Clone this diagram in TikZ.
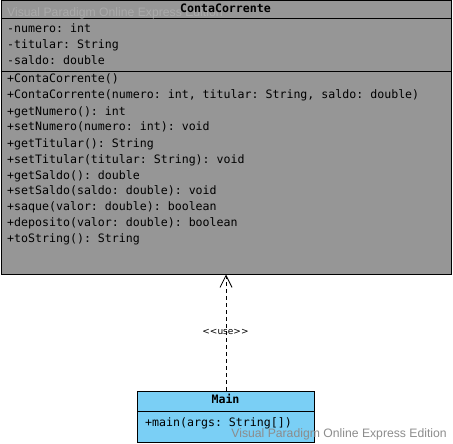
\documentclass[tikz,border=0pt]{standalone}
\usepackage{fontspec}
\setmainfont{Liberation Sans}
\setmonofont{DejaVu Sans Mono}
\newfontfamily\labelfont{DejaVu Sans}
\usetikzlibrary{arrows.meta}
\definecolor{clsgray}{RGB}{150,150,150}
\definecolor{clsblue}{RGB}{122,207,245}
\definecolor{wmdark}{RGB}{140,140,140}
\definecolor{wmlight}{RGB}{170,170,170}
\begin{document}
\begin{tikzpicture}[x=1pt,y=-1pt,
  classbox/.style={draw=black, line width=1pt, anchor=north west, inner sep=0pt},
  member/.style={anchor=west, inner sep=0pt, font=\ttfamily\fontsize{11.6}{13}\selectfont, text height=8.5pt, text depth=2.5pt},
  classtitle/.style={inner sep=0pt, font=\ttfamily\bfseries\fontsize{11.6}{13}\selectfont, text height=8.5pt, text depth=2.5pt},
  watermark/.style={inner sep=0pt, font=\fontsize{12.2}{14}\selectfont},
  uselabel/.style={inner sep=0pt, font=\labelfont\fontsize{9}{10}\selectfont},
  dep/.style={dashed, dash pattern=on 4pt off 3pt, line width=0.8pt, -{Straight Barb[length=12pt, width=12pt, line width=0.8pt]}}
]
\useasboundingbox (0,0) rectangle (453,444);

% ContaCorrente class
\node[classbox, fill=clsgray, minimum width=450pt, minimum height=273pt] (cc) at (0.5,0.5) {};
\draw[line width=1pt] (0.5,19) -- (450.5,19);
\draw[line width=1pt] (0.5,71.5) -- (450.5,71.5);
\node[watermark, anchor=base west, text=wmlight] (wm1) at (7,17) {Visual Paradigm Online Express Edition};
\node[classtitle] (cctitle) at (225.5,9.5) {ContaCorrente};

\node[member] (a1) at (7,29.5) {-numero: int};
\node[member] (a2) at (7,45.5) {-titular: String};
\node[member] (a3) at (7,61.5) {-saldo: double};

\node[member] (m1) at (7,80) {+ContaCorrente()};
\node[member] (m2) at (7,96) {+ContaCorrente(numero: int, titular: String, saldo: double)};
\node[member] (m3) at (7,112) {+getNumero(): int};
\node[member] (m4) at (7,128) {+setNumero(numero: int): void};
\node[member] (m5) at (7,144) {+getTitular(): String};
\node[member] (m6) at (7,160) {+setTitular(titular: String): void};
\node[member] (m7) at (7,176) {+getSaldo(): double};
\node[member] (m8) at (7,191.5) {+setSaldo(saldo: double): void};
\node[member] (m9) at (7,207.5) {+saque(valor: double): boolean};
\node[member] (m10) at (7,223.5) {+deposito(valor: double): boolean};
\node[member] (m11) at (7,239.5) {+toString(): String};

% Main class
\node[classbox, fill=clsblue, minimum width=177pt, minimum height=51pt] (main) at (137,390.5) {};
\draw[line width=1pt] (137,411) -- (314,411);
\node[classtitle] (maintitle) at (225.5,400.5) {Main};
\node[member] (mm1) at (145,423) {+main(args: String[])};

% dependency
\draw[dep] (main.north) -- (cc.south);
\node[uselabel] (use) at (225.5,332) {<\kern0pt<use>\kern0pt>};

% bottom watermark
\node[watermark, anchor=base east, text=wmdark] (wm2) at (447,437.5) {Visual Paradigm Online Express Edition};
\end{tikzpicture}
\end{document}
